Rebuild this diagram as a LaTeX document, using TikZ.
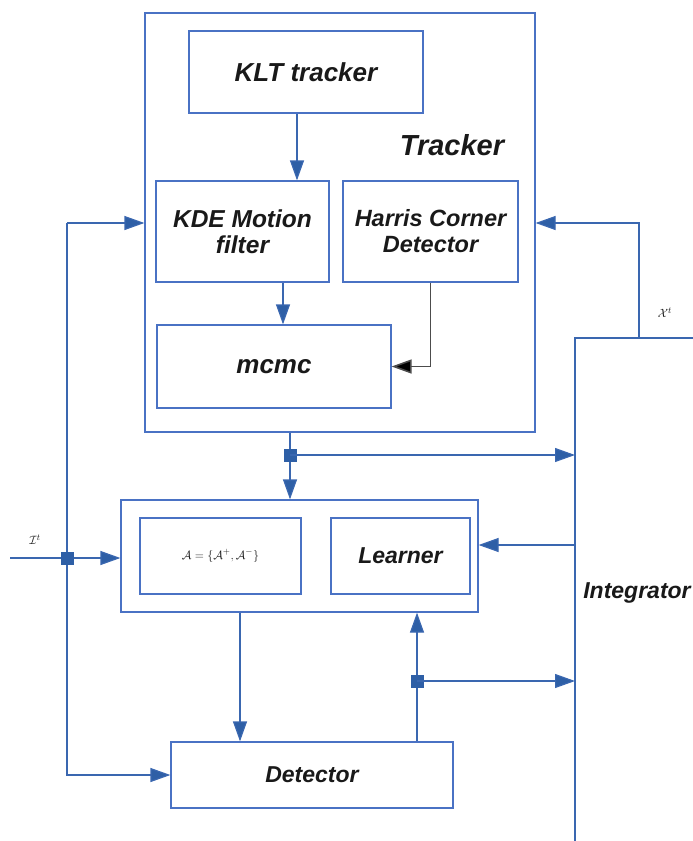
\documentclass[tikz,border=0pt]{standalone}
\usepackage{fontspec}
\setmainfont{Liberation Sans}
\usetikzlibrary{arrows.meta,calc}
\definecolor{boxblue}{RGB}{74,114,196}
\definecolor{lineblue}{RGB}{58,103,176}
\definecolor{fillblue}{RGB}{46,95,166}
\definecolor{txt}{RGB}{25,25,25}
\begin{document}
\begin{tikzpicture}[x=1pt,y=-1pt,
  blk/.style={draw=boxblue,line width=1.2pt,rectangle,inner sep=0pt,align=center,text=txt,font=\bfseries\itshape},
  arr/.style={draw=lineblue,line width=1.2pt,-{Triangle[length=20pt,width=14pt,fill=fillblue]}},
  ln/.style={draw=lineblue,line width=1.2pt},
  sq/.style={rectangle,fill=fillblue,minimum size=13pt,inner sep=0pt},
  lbl/.style={inner sep=0pt,text=txt}]
\useasboundingbox (0,0) rectangle (693,841);
% boxes
\node[blk,minimum width=390pt,minimum height=419pt] (Tracker) at (340,222.5) {};
\node[lbl,font=\fontsize{29}{32}\selectfont\bfseries\itshape] (TrackerLbl) at (452,145) {Tracker};
\node[blk,minimum width=234pt,minimum height=82pt,font=\fontsize{26}{30}\selectfont\bfseries\itshape] (KLT) at (306,72) {KLT tracker};
\node[blk,minimum width=173pt,minimum height=101pt,font=\fontsize{24.5}{26}\selectfont\bfseries\itshape] (KDE) at (242.5,231.5) {KDE Motion\\filter};
\node[blk,minimum width=175pt,minimum height=101pt,font=\fontsize{23.5}{26}\selectfont\bfseries\itshape] (Harris) at (430.5,231.5) {Harris Corner\\Detector};
\node[blk,minimum width=234pt,minimum height=83pt,font=\fontsize{26}{29}\selectfont\bfseries\itshape] (mcmc) at (274,366.5) {mcmc};
\node[blk,minimum width=357pt,minimum height=112pt] (LO) at (299.5,556) {};
\node[blk,minimum width=161pt,minimum height=76pt,font=\fontsize{13}{15}\selectfont] (Abox) at (220.5,556) {$\mathcal{A}=\{\mathcal{A}^{+},\mathcal{A}^{-}\}$};
\node[blk,minimum width=139pt,minimum height=76pt,font=\fontsize{23}{26}\selectfont\bfseries\itshape] (Learner) at (400.5,556) {Learner};
\node[blk,minimum width=282pt,minimum height=66pt,font=\fontsize{23}{26}\selectfont\bfseries\itshape] (Detector) at (312,775) {Detector};
% integrator
\coordinate (intR) at (693,338);
\coordinate (intTop) at (575,338);
\coordinate (intBot) at (575,841);
\draw[ln] (intR) -- (intTop) -- (intBot);
\node[lbl,font=\fontsize{23}{26}\selectfont\bfseries\itshape] (IntLbl) at (637,593) {Integrator};
% tracker internal arrows
\draw[arr] ([xshift=-9pt]KLT.south) -- ([xshift=-9pt]KLT.south |- KDE.north);
\draw[arr] ([xshift=40.5pt]KDE.south) -- ([xshift=40.5pt]KDE.south |- mcmc.north);
\draw[line width=1.6pt,draw=black!70,-{Triangle[length=20pt,width=14pt,fill=black]}] (Harris.south) |- (mcmc.east);
% left feedback
\coordinate (ltop) at (67,223);
\draw[arr] (ltop) -- (ltop -| Tracker.west);
\draw[arr] (ltop) |- (Detector.west);
% input I^t
\coordinate (iin) at (10,558);
\node[lbl,font=\fontsize{13}{15}\selectfont] (ILbl) at (35,540) {$\mathcal{I}^{t}$};
\draw[arr] (iin) -- (iin -| LO.west);
\node[sq] (sq1) at (ltop |- iin) {};
% X^t
\coordinate (xt) at (639,338);
\coordinate (xturn) at (639,223);
\node[lbl,font=\fontsize{13}{15}\selectfont] (XLbl) at (665,313) {$\mathcal{X}^{t}$};
\draw[arr] (xt) -- (xturn) -- (xturn -| Tracker.east);
% tracker -> learner, integrator
\coordinate (tb) at ([xshift=-50pt]Tracker.south);
\draw[arr] (tb) -- (tb |- LO.north);
\node[sq] (sq2) at (290,455) {};
\draw[arr] (sq2.center) -- (sq2 -| intTop);
% integrator -> learner
\draw[arr] ([yshift=11pt]LO.east -| intTop) -- ([yshift=11pt]LO.east);
% learner -> detector
\draw[arr] ([xshift=-59.5pt]LO.south) -- ([xshift=-59.5pt]LO.south |- Detector.north);
% detector -> learner
\draw[arr] ([xshift=105pt]Detector.north) -- ([xshift=105pt]Detector.north |- LO.south);
\node[sq] (sq3) at (417,681) {};
\draw[arr] (sq3.center) -- (sq3 -| intTop);
\end{tikzpicture}
\end{document}
